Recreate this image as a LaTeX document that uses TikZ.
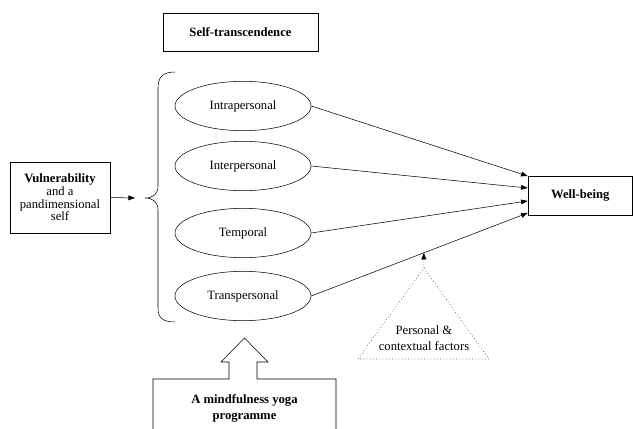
\documentclass[tikz,border=0pt]{standalone}
\usepackage{fontspec}
\setmainfont{Liberation Serif}
\usetikzlibrary{shapes.geometric}
\usetikzlibrary{arrows.meta}
\usetikzlibrary{calc}
\tikzset{
    box/.style={draw, thin, align=center, inner sep=2pt},
    dimension/.style={draw, thin, ellipse, minimum width=102pt, minimum height=37pt, inner sep=0pt},
    link/.style={-{Triangle[length=5pt,width=3.6pt]}, thin}
}

\begin{document}
\begin{tikzpicture}[x=0.75pt,y=-0.75pt,font=\fontsize{9.5}{11}\selectfont]
		\useasboundingbox (0,0) rectangle (633,429);

		% Heading
		\node[box, minimum width=116pt, minimum height=28.5pt] (st) at (240.5,32) {\textbf{Self-transcendence}};

		% Vulnerability
		\node[box, minimum width=75pt, minimum height=53pt, font=\fontsize{9.5}{9.5}\selectfont] (vul) at (60,197.5) {\textbf{Vulnerability}\\and a\\pandimensional\\self};

		% Dimensions
		\node[dimension] (intra) at (243,106) {Intrapersonal};
		\node[dimension] (inter) at (243,166) {Interpersonal};
		\node[dimension] (temp) at (243,233) {Temporal};
		\node[dimension] (trans) at (243,296) {Transpersonal};

		% Brace round the dimensions
		\draw (175,72) .. controls (163,72) and (158,77) .. (158,88) -- (158,186)
			.. controls (158,194) and (153,198) .. (145,198)
			.. controls (153,198) and (158,202) .. (158,210) -- (158,308)
			.. controls (158,318) and (163,322) .. (175,322);
		\coordinate (brtip) at (145,198);
		\draw[link] (vul.east) -- ([xshift=-7.5pt]brtip);

		% Well-being
		\node[box, minimum width=78.4pt, minimum height=29.25pt] (wb) at (580.25,195.5) {\textbf{Well-being}};
		\coordinate (w1) at ([yshift=14.6pt]wb.west);
		\coordinate (w2) at ([yshift=5.6pt]wb.west);
		\coordinate (w3) at ([yshift=-4.1pt]wb.west);
		\coordinate (w4) at ([yshift=-13.1pt]wb.west);
		\draw[link] (intra.east) -- (w1);
		\draw[link] (inter.east) -- (w2);
		\draw[link] (temp.east) -- (w3);
		\draw[link] (trans.east) -- (w4);

		% Personal & contextual factors
		\coordinate (apex) at (424,268);
		\draw[dotted] (apex) -- (489,359) -- (358,359) -- cycle;
		\node[align=center, font=\fontsize{9.5}{12}\selectfont] (fac) at (424,338.5) {Personal \&\\contextual factors};
		\coordinate (mod) at ($(trans.east)!0.52!(w4)$);
		\draw[link, dotted] (apex) -- (mod);

		% Programme with block arrow
		\draw (153,429) -- (153,379) -- (229,379) -- (229,362) -- (221,362) -- (244.5,338)
			-- (268,362) -- (257,362) -- (257,379) -- (336,379) -- (336,429);
		\node[align=center, font=\fontsize{9.5}{12}\selectfont] (yoga) at (244.5,408) {\textbf{A mindfulness yoga}\\\textbf{programme}};

	\end{tikzpicture}
\end{document}
